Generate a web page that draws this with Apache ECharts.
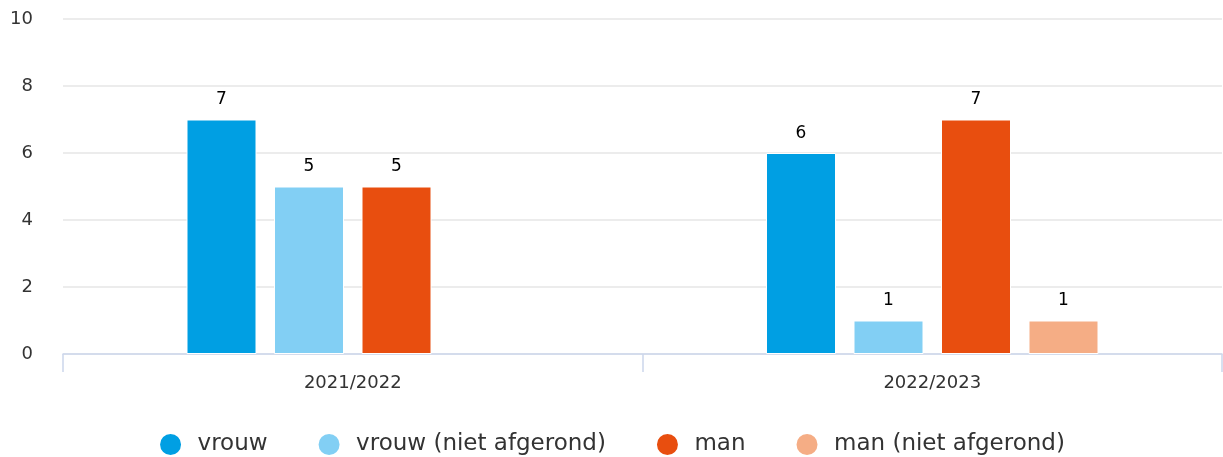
<!DOCTYPE html>
<html><head><meta charset="utf-8">
<script src="https://cdn.jsdelivr.net/npm/echarts@6/dist/echarts.min.js"></script>
<style>html,body{margin:0;padding:0;background:#fff}#c{width:1223px;height:457px}</style>
</head><body><div id="c"></div>
<script>
const categories = ['2021/2022', '2022/2023'];
const vrouw = [7, 6];
const vrouwNietAfgerond = [5, 1];
const man = [5, 7];
const manNietAfgerond = [null, 1];
const yTicks = [0, 2, 4, 6, 8, 10];

const font = 'DejaVu Sans';
function bar(name, data, color) {
  return {
    name, type: 'bar', data, barWidth: 70, barGap: '25%',
    itemStyle: { color, borderColor: '#fff', borderWidth: 1 },
    label: { show: true, position: 'top', distance: 11, color: '#000', fontSize: 17, fontFamily: font },
    emphasis: { disabled: true }
  };
}
const chart = echarts.init(document.getElementById('c'));
chart.setOption({
  animation: false,
  textStyle: { fontFamily: font },
  grid: { left: 63, right: 1, top: 19, bottom: 103 },
  legend: {
    top: 427, left: 'center', icon: 'circle', itemWidth: 44, itemHeight: 23, itemGap: 49,
    textStyle: { fontSize: 23, color: '#333', fontFamily: font }
  },
  xAxis: {
    type: 'category', data: categories,
    axisLine: { lineStyle: { color: '#ccd6eb', width: 1.5 } },
    axisTick: { show: true, length: 18, lineStyle: { color: '#ccd6eb', width: 1.5 } },
    axisLabel: { color: '#333', fontSize: 18, margin: 20, fontFamily: font }
  },
  yAxis: {
    type: 'value', min: yTicks[0], max: yTicks[yTicks.length - 1], interval: 2,
    axisLine: { show: false }, axisTick: { show: false },
    splitLine: { lineStyle: { color: '#e6e6e6', width: 1.5 } },
    axisLabel: { color: '#333', fontSize: 18, margin: 30, fontFamily: font }
  },
  series: [
    bar('vrouw', vrouw, '#009fe3'),
    bar('vrouw (niet afgerond)', vrouwNietAfgerond, '#82cff4'),
    bar('man', man, '#e84e0f'),
    bar('man (niet afgerond)', manNietAfgerond, '#f5ad85')
  ]
});
</script></body></html>
